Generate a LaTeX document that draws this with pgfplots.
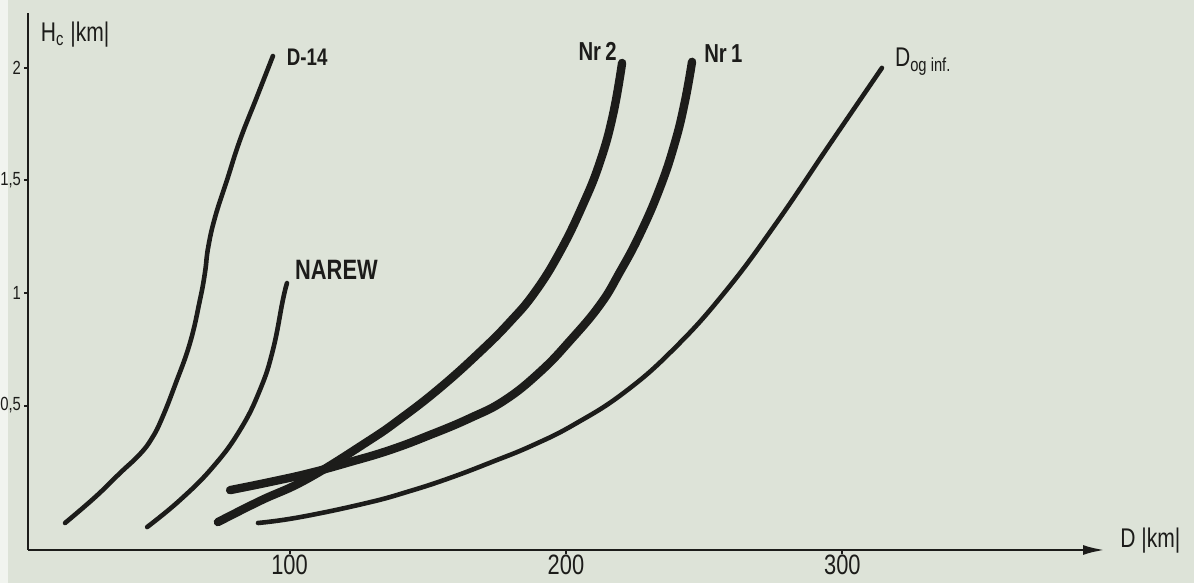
\documentclass[border=0pt]{standalone}
\usepackage{pgfplots}
\pgfplotsset{compat=1.18}
\usepackage{fontspec}
\setmainfont{Liberation Sans}[FakeStretch=0.78]
\usetikzlibrary{arrows.meta}
\definecolor{paper}{RGB}{221,227,216}
\definecolor{ink}{RGB}{28,28,26}

\begin{document}
\begin{tikzpicture}
  % scan background, 1 px = 0.5pt
  \fill[paper] (0,0) rectangle (597pt,291.5pt);
  \fill[white!60!paper] (0,0) rectangle (4pt,291.5pt);
  \begin{axis}[
    at={(14pt,16.5pt)}, anchor=south west,
    scale only axis, width=538.5pt, height=268.5pt,
    xmin=5.4, xmax=395, ymin=-0.142, ymax=2.244,
    axis x line=bottom, axis y line=left,
    axis line style={ink, line width=1.4pt, -},
    x axis line style={-{Latex[length=11pt,width=5pt]}},
    xtick={100,200,300}, xticklabels={100,200,300},
    ytick={0.5,1,1.5,2}, yticklabels={0{,}5,1,1{,}5,2},
    tick align=outside, major tick length=2pt,
    tick style={ink, line width=1pt},
    xticklabel style={font=\fontsize{14}{14}\selectfont, text=ink, yshift=3pt},
    yticklabel style={font=\fontsize{9.5}{10}\selectfont, text=ink, xshift=2pt},
    /pgf/number format/assume math mode=true,
    clip=false,
    every axis plot/.append style={ink, smooth, tension=0.75, line cap=round, line join=round},
  ]
    % D-14
    \addplot[line width=2.3pt] coordinates {
      (18.8,-0.022) (29.7,0.093) (38.7,0.200) (45.9,0.284) (50.3,0.356)
      (53.9,0.444) (58.6,0.591) (64.0,0.778) (67.6,0.969) (69.4,1.089)
      (70.6,1.204) (73.1,1.338) (77.4,1.502) (82.1,1.680) (88.2,1.871)
      (94.0,2.053)
    };
    % NAREW
    \addplot[line width=2.3pt] coordinates {
      (48.5,-0.04) (60.4,0.08) (72.3,0.227) (82.1,0.391) (89.3,0.569)
      (94.0,0.747) (97.6,0.969) (99.1,1.044)
    };
    % Nr 2
    \addplot[line width=4.2pt] coordinates {
      (74.1,-0.018) (89.3,0.076) (106.3,0.173) (128.0,0.338) (140.0,0.440)
      (154.4,0.578) (168.9,0.738) (179.7,0.871) (188.8,1.004) (197.8,1.182)
      (206.1,1.391) (212.3,1.582) (217.0,1.791) (220.3,2.022)
    };
    % Nr 1
    \addplot[line width=4.2pt] coordinates {
      (78.5,0.124) (92.9,0.160) (107.4,0.200) (121.9,0.249) (136.3,0.302)
      (150.8,0.369) (165.3,0.444) (177.9,0.524) (190.6,0.649) (201.4,0.787)
      (212.3,0.947) (219.5,1.093) (226.8,1.262) (234.0,1.467) (239.4,1.667)
      (243.0,1.849) (245.6,2.027)
    };
    % D og inf.
    \addplot[line width=2.3pt] coordinates {
      (88.6,-0.022) (103.8,0.004) (128.0,0.067) (143.6,0.120) (158.0,0.178)
      (173.2,0.249) (188.1,0.324) (203.3,0.418) (221.3,0.560) (239.4,0.756)
      (257.5,1.004) (275.6,1.302) (295.5,1.662) (314.3,2.000)
    };

    \node[anchor=west, text=ink, font=\bfseries\fontsize{12}{12}\selectfont] at (axis cs:96.5,2.049) {D-14};
    \node[anchor=west, text=ink, font=\bfseries\fontsize{14}{14}\selectfont] at (axis cs:99.5,1.102) {NAREW};
    \node[anchor=west, text=ink, font=\bfseries\fontsize{13}{13}\selectfont] at (axis cs:202,2.071) {Nr\,2};
    \node[anchor=west, text=ink, font=\bfseries\fontsize{13}{13}\selectfont] at (axis cs:247.5,2.062) {Nr\,1};
    \node[anchor=west, text=ink, font=\fontsize{13.5}{13}\selectfont] at (axis cs:316.5,2.027) {D\textsubscript{og inf.}};
    \node[anchor=west, text=ink, font=\fontsize{13.5}{13}\selectfont] at (axis cs:7.5,2.15) {H\textsubscript{c} |km|};
    \node[anchor=west, text=ink, font=\fontsize{13.5}{13}\selectfont] at (axis cs:398,-0.098) {D |km|};
  \end{axis}
  \pgfresetboundingbox
  \useasboundingbox (0,0) rectangle (597pt,291.5pt);
\end{tikzpicture}
\end{document}
